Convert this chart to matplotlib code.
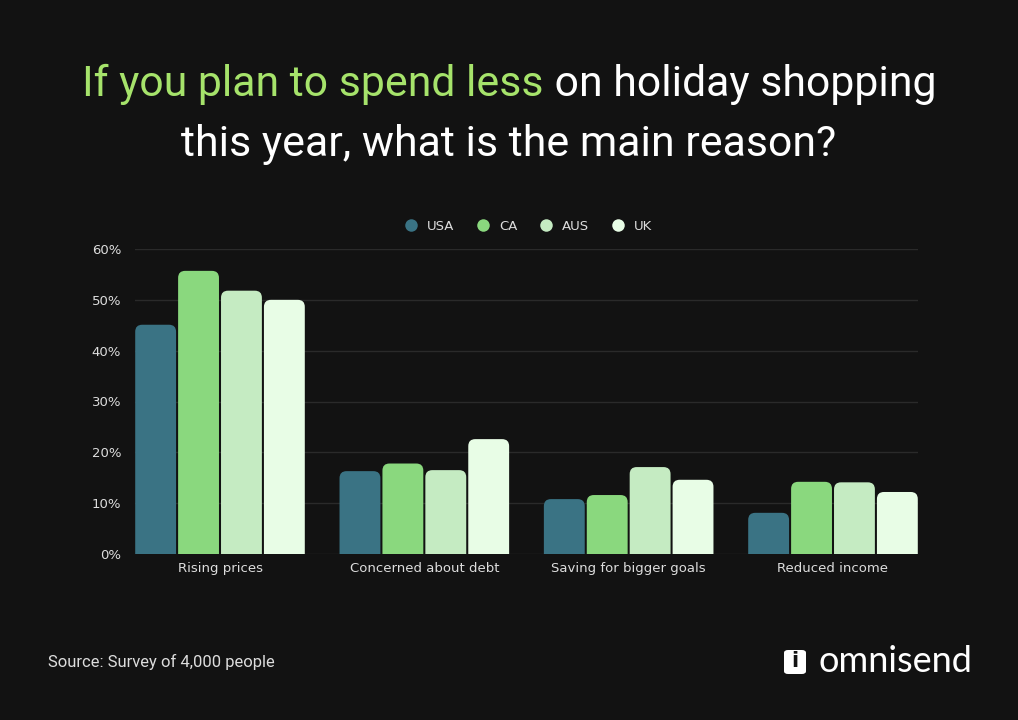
import matplotlib
matplotlib.use("Agg")
import matplotlib.pyplot as plt
from matplotlib.patches import FancyBboxPatch
import numpy as np

categories = ["Rising prices", "Concerned about debt", "Saving for bigger goals", "Reduced income"]
series = ["USA", "CA", "AUS", "UK"]
usa = [45.1, 16.3, 10.8, 8.1]
ca = [55.7, 17.8, 11.6, 14.2]
aus = [51.8, 16.5, 17.1, 14.1]
uk = [50.0, 22.6, 14.6, 12.2]
colors = ["#3a7384", "#8ad87e", "#c5ebc2", "#e8fde6"]
yticks = [0, 10, 20, 30, 40, 50, 60]

BG = "#121212"
fig = plt.figure(figsize=(10.18, 7.2), dpi=100, facecolor=BG)
ax = fig.add_axes([135/1018, (720-554)/720, (918-135)/1018, (554-249)/720])
ax.set_facecolor(BG)

x = np.arange(len(categories))
bw = 0.2
step = 0.21
ax.set_xlim(-0.416, len(categories) - 1 + 0.416)
ax.set_ylim(0, 60)
px_per_x = 783 / (len(categories) - 1 + 0.832)
px_per_y = 305 / 60.0
r = 7 / px_per_x
aspect = px_per_x / px_per_y
for i, (name, vals) in enumerate(zip(series, [usa, ca, aus, uk])):
    xs = x + (i - 1.5) * step
    bars = ax.bar(xs, vals, width=bw, color=colors[i], label=name, alpha=0)
    for b in bars:
        x0, w, h = b.get_x(), b.get_width(), b.get_height()
        ax.add_patch(FancyBboxPatch((x0, -5), w, h + 5,
                     boxstyle=f"round,pad=0,rounding_size={r}",
                     mutation_aspect=aspect, fc=colors[i], ec="none", zorder=3))

ax.set_yticks(yticks)
ax.set_yticklabels([f"{t}%" for t in yticks])
ax.set_xticks(x)
ax.set_xticklabels(categories)
ax.grid(axis="y", color="#2a2a2a", linewidth=1, zorder=0)
ax.set_axisbelow(True)
for s in ax.spines.values():
    s.set_visible(False)
ax.tick_params(length=0, colors="#dddddd", labelsize=9.5)
ax.tick_params(axis="y", pad=10)
ax.tick_params(axis="x", pad=6)

handles = [plt.Line2D([], [], marker="o", ls="", ms=9, mfc=c, mec="none") for c in colors]
fig.legend(handles, series, loc="center", bbox_to_anchor=(525/1018, 1 - 226/720), ncol=4,
           frameon=False, labelcolor="#dddddd", fontsize=9.5, handletextpad=0.2, columnspacing=1.2)

fs = 30.8
t1 = fig.text(0, 0, "If you plan to spend less", color="#a6e36b", fontsize=fs, family="Roboto")
t2 = fig.text(0, 0, " on holiday shopping", color="white", fontsize=fs, family="Roboto")
fig.canvas.draw()
r_ = fig.canvas.get_renderer()
w1 = t1.get_window_extent(r_).width
w2 = t2.get_window_extent(r_).width
start = (1018 - (w1 + w2)) / 2
ybase = 1 - 96/720
t1.set_position((start/1018, ybase))
t2.set_position(((start + w1)/1018, ybase))
fig.text(0.5, 1 - 156/720, "this year, what is the main reason?", color="white", fontsize=fs,
         family="Roboto", ha="center", va="baseline")

fig.text(48/1018, 1 - 662/720, "Source: Survey of 4,000 people", color="#dddddd", fontsize=12,
         family="Roboto", va="center")
fig.patches.append(FancyBboxPatch((784/1018, 1 - 674/720), 22/1018, 24/720,
                   boxstyle="round,pad=0,rounding_size=0.004", transform=fig.transFigure,
                   fc="white", ec="none"))
fig.text(795/1018, 1 - 661/720, "i", color=BG, fontsize=15, fontweight="bold",
         ha="center", va="center", family="DejaVu Sans")
fig.text(818/1018, 1 - 661/720, "omnisend", color="white", fontsize=26, family="Lato",
         va="center")

fig.savefig("out.png", dpi=100, facecolor=BG)
